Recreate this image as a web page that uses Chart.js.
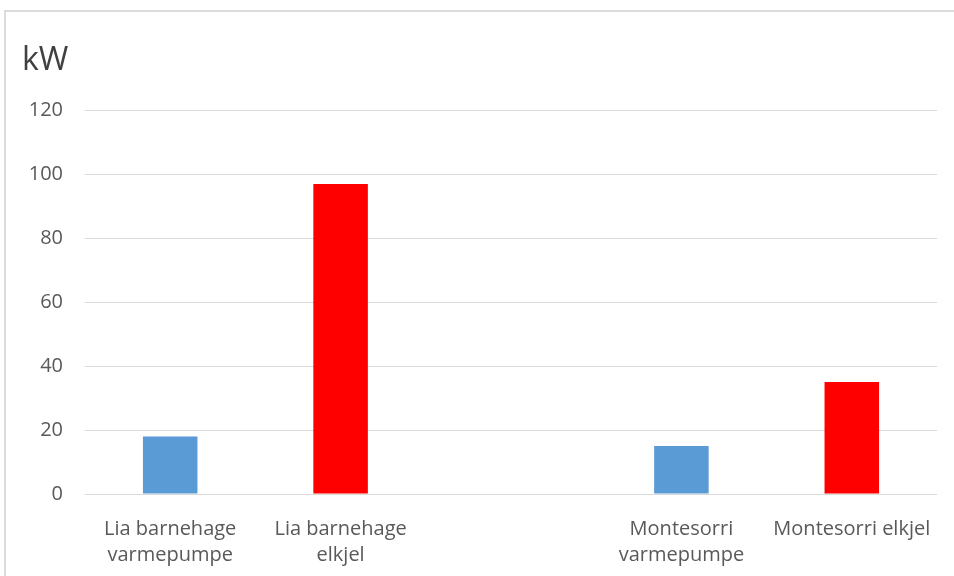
<!DOCTYPE html>
<html>
<head>
<meta charset="utf-8">
<script src="https://cdn.jsdelivr.net/npm/chart.js@4/dist/chart.umd.min.js"></script>
<style>
html,body{margin:0;padding:0;background:#fff;}
#wrap{position:relative;width:954px;height:576px;overflow:hidden;}
#frame{position:absolute;left:4px;top:10px;width:1000px;height:700px;border:2px solid #dcdcdc;box-sizing:border-box;}
canvas{position:absolute;left:0;top:0;}
</style>
</head>
<body>
<div id="wrap">
<div id="frame"></div>
<canvas id="c" width="954" height="576"></canvas>
</div>
<script>
const categories = [
  ["Lia barnehage", "varmepumpe"],
  ["Lia barnehage", "elkjel"],
  "",
  ["Montesorri", "varmepumpe"],
  "Montesorri elkjel"
];
const values = [18, 97, null, 15, 35];
const barColors = ["#5B9BD5", "#FF0000", "#FFFFFF", "#5B9BD5", "#FF0000"];
const yTicks = [0, 20, 40, 60, 80, 100, 120];
const unitLabel = "kW";

new Chart(document.getElementById('c'), {
  type: 'bar',
  data: {
    labels: categories,
    datasets: [{
      data: values,
      backgroundColor: barColors,
      borderWidth: 0,
      categoryPercentage: 1.0,
      barPercentage: 0.32
    }]
  },
  options: {
    responsive: false,
    animation: false,
    layout: { padding: { left: 22, right: 17, top: 0, bottom: 0 } },
    plugins: {
      legend: { display: false },
      tooltip: { enabled: false },
      title: {
        display: true,
        text: unitLabel,
        align: 'start',
        color: '#404040',
        font: { family: 'Open Sans', size: 32, weight: 'normal', lineHeight: 1.2 },
        padding: { top: 42, bottom: 30 }
      }
    },
    scales: {
      x: {
        afterFit: (axis) => { axis.height = 82; },
        grid: { display: false },
        border: { display: false },
        ticks: {
          color: '#595959',
          font: { family: 'Open Sans', size: 20, lineHeight: 1.3 },
          maxRotation: 0,
          autoSkip: false,
          padding: 14
        }
      },
      y: {
        min: 0,
        max: 120,
        afterBuildTicks: (axis) => { axis.ticks = yTicks.map(v => ({ value: v })); },
        afterFit: (axis) => { axis.width = 63; },
        grid: { color: '#d9d9d9', lineWidth: 1, drawTicks: false },
        border: { display: false },
        ticks: {
          color: '#595959',
          font: { family: 'Open Sans', size: 20 },
          padding: 22
        }
      }
    }
  }
});
</script>
</body>
</html>
